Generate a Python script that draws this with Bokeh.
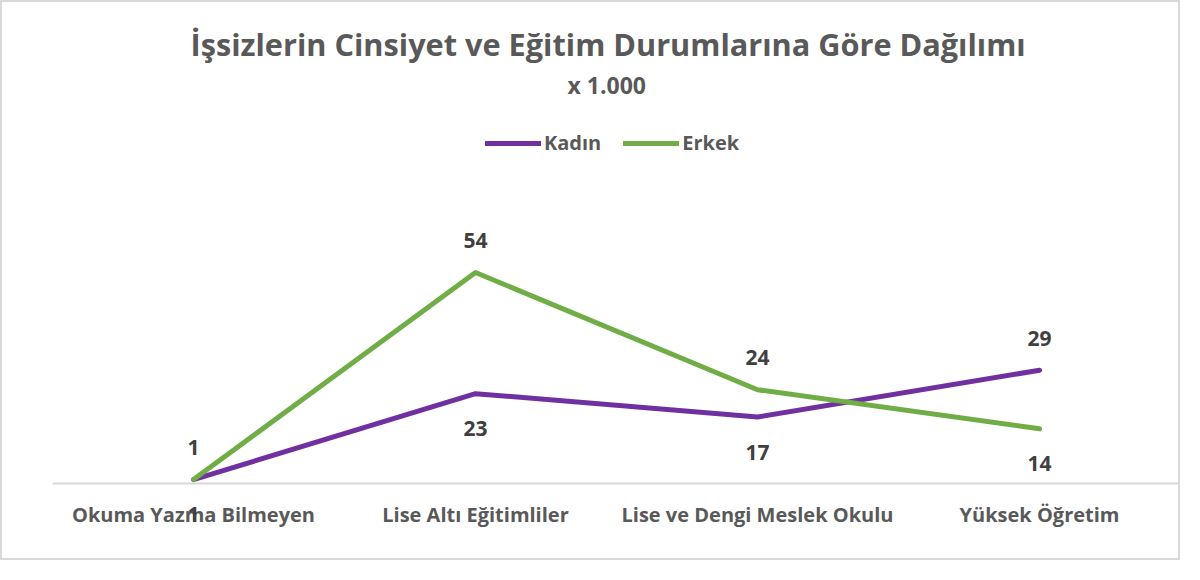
from bokeh.plotting import figure
from bokeh.models import ColumnDataSource, Legend, LegendItem, Title, Range1d, FactorRange, LabelSet
from bokeh.embed import file_html
from bokeh.resources import INLINE
from bokeh.core.properties import value

categories = ["Okuma Yazma Bilmeyen", "Lise Altı Eğitimliler", "Lise ve Dengi Meslek Okulu", "Yüksek Öğretim"]
kadin = [1, 23, 17, 29]
erkek = [1, 54, 24, 14]

FONT = "Open Sans"
PURPLE = "#7030A0"
GREEN = "#70AD47"
TXT = "#595959"
LBL = "#404040"

p = figure(width=1180, height=560, x_range=FactorRange(*categories, range_padding=0),
           y_range=Range1d(-19.7, 97.5), output_backend="svg", toolbar_location=None,
           min_border_left=50, min_border_right=2, min_border_bottom=2, min_border_top=100,
           title="İşsizlerin Cinsiyet ve Eğitim Durumlarına Göre Dağılımı")
p.outline_line_color = None
p.border_fill_color = "white"
p.background_fill_color = "white"
p.xgrid.visible = False
p.ygrid.visible = False
p.yaxis.visible = False
p.styles = {"border": "2px solid #D9D9D9"}

p.title.align = "left"
p.title.offset = 138
p.title.text_font = FONT
p.title.text_font_size = "30.7px"
p.title.text_font_style = "bold"
p.title.text_color = TXT
p.title.standoff = 0

ax = p.xaxis[0]
ax.fixed_location = 0
ax.axis_line_color = "#D9D9D9"
ax.axis_line_width = 2
ax.major_tick_line_color = None
ax.minor_tick_line_color = None
ax.major_label_text_font = FONT
ax.major_label_text_font_size = "20px"
ax.major_label_text_font_style = "bold"
ax.major_label_text_color = TXT
ax.major_label_standoff = 11

src = ColumnDataSource(dict(
    x=categories, k=kadin, e=erkek,
    kl=[str(v) for v in kadin], el=[str(v) for v in erkek],
    koff=[32 if k > e else -35 for k, e in zip(kadin, erkek)],
    eoff=[32 if e >= k else -35 for k, e in zip(kadin, erkek)],
))

rk = p.line("x", "k", source=src, line_color=PURPLE, line_width=5, line_cap="round", line_join="round")
re = p.line("x", "e", source=src, line_color=GREEN, line_width=5, line_cap="round", line_join="round")

for ycol, col, off in (("k", "kl", "koff"), ("e", "el", "eoff")):
    ls = LabelSet(x="x", y=ycol, text=col, y_offset=off, source=src,
                  text_align="center", text_baseline="middle", text_font=value(FONT),
                  text_font_size=value("21px"), text_font_style="bold", text_color=LBL)
    p.add_layout(ls)

legend = Legend(items=[LegendItem(label="Kadın", renderers=[rk]), LegendItem(label="Erkek", renderers=[re])],
                orientation="horizontal", location=(433, 404), glyph_width=56, glyph_height=20,
                label_text_font=FONT, label_text_font_size="20px", label_text_font_style="bold",
                label_text_color=TXT, label_standoff=3, spacing=22, border_line_color=None,
                padding=0, margin=0, background_fill_alpha=0)
p.add_layout(legend)

sub = Title(text="x 1.000", align="left", offset=515, text_font=FONT, text_font_size="23px",
            text_font_style="bold", text_color=TXT, standoff=4)
p.add_layout(sub, "above")

open("out.html", "w").write(file_html(p, INLINE))
